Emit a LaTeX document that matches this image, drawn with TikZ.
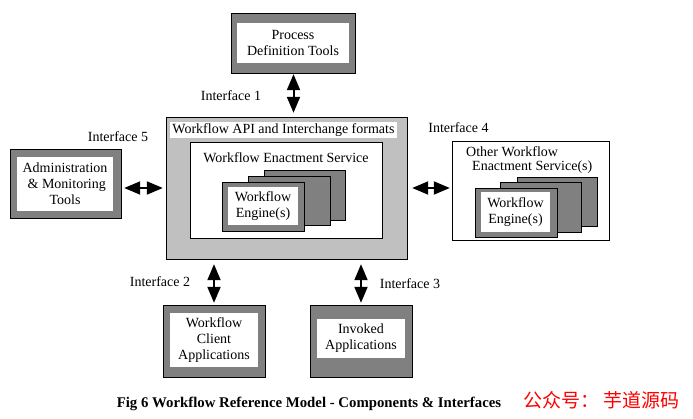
\documentclass[tikz,border=0pt]{standalone}
\usepackage{fontspec}
\setmainfont{Liberation Serif}
\newfontfamily\cjk{Noto Sans CJK SC}
\usepackage{tikz}
\usepackage{xcolor}
\usetikzlibrary{positioning, fit, arrows.meta}

\definecolor{framegray}{RGB}{128,128,128}
\definecolor{basegray}{RGB}{192,192,192}

\begin{document}
\begin{tikzpicture}[x=1pt,y=-1pt]
                % Define the styles for boxes, texts and interface arrows
                \tikzstyle{frame}=[draw=black, fill=framegray, inner sep=0pt];
                \tikzstyle{paper}=[fill=white, inner sep=0pt, align=center, font=\fontsize{14}{16}\selectfont];
                \tikzstyle{tag}=[inner sep=0pt, font=\fontsize{14}{16}\selectfont];
                \tikzstyle{iface}=[line width=2pt, {Triangle[length=16pt,width=13pt]}-{Triangle[length=16pt,width=13pt]}];

                % Fix the page size
                \useasboundingbox (0,0) rectangle (693,419);

                % Process definition tools on top
                \node[frame, minimum width=124pt, minimum height=60pt] (pdt) at (293.5,43) {};
                \node[paper, minimum width=112pt, minimum height=40pt] (pdt text) at (293,43) {Process\\Definition Tools};

                % Central block with the enactment service
                \node[draw=black, fill=basegray, minimum width=241pt, minimum height=142pt] (api) at (286.5,188) {};
                \node[paper, minimum width=227pt, minimum height=16pt] (api text) at (283.5,130) {Workflow API and Interchange formats};
                \node[draw=black, fill=white, minimum width=192pt, minimum height=96pt] (wes) at (286,190) {};
                \node[tag] (wes text) at (286,158) {Workflow Enactment Service};
                \node[frame, minimum width=81pt, minimum height=50pt] (engine back) at (304.5,195) {};
                \node[frame, minimum width=82pt, minimum height=49pt] (engine mid) at (289,200.5) {};
                \node[frame, minimum width=82pt, minimum height=49pt] (engine) at (263,206.5) {};
                \node[paper, minimum width=70pt, minimum height=38pt] (engine text) at (263,206) {Workflow\\Engine(s)};

                % Administration tools on the left
                \node[frame, minimum width=111pt, minimum height=69pt] (admin) at (65.5,183.5) {};
                \node[paper, minimum width=96pt, minimum height=54pt] (admin text) at (65,184) {Administration\\\ \& Monitoring\\Tools};

                % Other enactment services on the right
                \node[draw=black, fill=white, minimum width=157pt, minimum height=99pt] (other) at (530.5,190.5) {};
                \node[tag, anchor=base west] (other text) at (466,157) {Other Workflow};
                \node[tag, anchor=base west] (other text2) at (472,171) {Enactment Service(s)};
                \node[frame, minimum width=80pt, minimum height=49pt] (other back) at (557,201.5) {};
                \node[frame, minimum width=81pt, minimum height=50pt] (other mid) at (540.5,207) {};
                \node[frame, minimum width=82pt, minimum height=49pt] (other engine) at (516,212.5) {};
                \node[paper, minimum width=69pt, minimum height=40pt] (other engine text) at (515.5,212) {Workflow\\Engine(s)};

                % Client and invoked applications below
                \node[frame, minimum width=102pt, minimum height=72pt] (client) at (214,341) {};
                \node[paper, minimum width=88pt, minimum height=54pt] (client text) at (214,340) {Workflow\\Client\\Applications};
                \node[frame, minimum width=102pt, minimum height=72pt] (invoked) at (361,341) {};
                \node[paper, minimum width=88pt, minimum height=39pt] (invoked text) at (361,338.5) {Invoked\\Applications};

                % Interface arrows
                \draw[iface, shorten <=1pt, shorten >=4pt] (pdt.south) -- (api.north -| pdt.south);
                \draw[iface, shorten <=3pt, shorten >=3pt] (admin.east |- api.west) -- (api.west);
                \draw[iface, shorten <=5pt, shorten >=2pt] (api.east) -- (other.west |- api.east);
                \draw[iface, shorten <=5pt, shorten >=2pt] (client.north |- api.south) -- (client.north);
                \draw[iface, shorten <=5pt, shorten >=2pt] (invoked.north |- api.south) -- (invoked.north);

                % Label the interfaces
                \node[tag] (if1) at (231,96) {Interface 1};
                \node[tag] (if2) at (160,282) {Interface 2};
                \node[tag] (if3) at (410,284) {Interface 3};
                \node[tag] (if4) at (458.5,128) {Interface 4};
                \node[tag] (if5) at (118,137) {Interface 5};

                % Caption and mark
                \node[tag, font=\fontsize{14.8}{16}\selectfont\bfseries] (caption) at (309,404) {Fig 6 Workflow Reference Model - Components \& Interfaces};
                \node[inner sep=0pt, text=red, font=\fontsize{19}{21}\cjk] (mark) at (601.5,400) {公众号：\ 芋道源码};
            \end{tikzpicture}
\end{document}
